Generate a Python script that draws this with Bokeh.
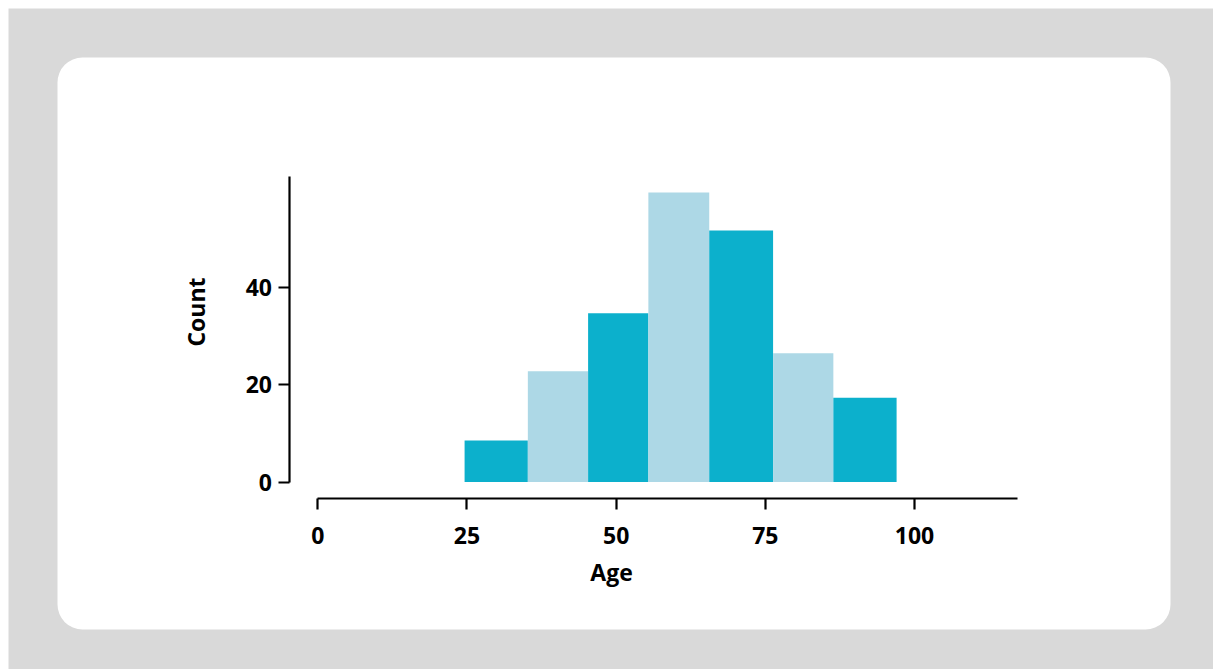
import math
from bokeh.plotting import figure
from bokeh.models import Range1d, FixedTicker, ColumnDataSource
from bokeh.core.properties import value
from bokeh.embed import file_html
from bokeh.resources import INLINE

# ---- data ----
bin_left = [24.6, 35.2, 45.3, 55.4, 65.6, 76.3, 86.4]
bin_right = [35.2, 45.3, 55.4, 65.6, 76.3, 86.4, 97.0]
counts = [8.5, 22.7, 34.6, 59.4, 51.6, 26.4, 17.3]
x_ticks = [0, 25, 50, 75, 100]
y_ticks = [0, 20, 40]
x_title = "Age"
y_title = "Count"

DARK = "#0cb0cc"
LIGHT = "#add8e6"
GRAY = "#d9d9d9"
FONT = "Open Sans"
FSIZE = "23px"

# pixel <-> data mapping (frame covers the full canvas)
W, H = 1213, 669
PX0, SX = 317.3, 5.967      # x pixel of value 0, pixels per unit
PY0, SY = 481.5, 4.875      # y pixel of value 0, pixels per unit


def dx(px):
    return (px - PX0) / SX


def dy(py):
    return (PY0 - py) / SY


p = figure(width=W, height=H, output_backend="svg", toolbar_location=None,
           x_range=Range1d(dx(0), dx(W)), y_range=Range1d(dy(H), dy(0)),
           min_border=0)
p.border_fill_color = "white"
p.background_fill_color = "white"
p.outline_line_color = None
p.xgrid.visible = False
p.ygrid.visible = False

# gray page area and white rounded panel
p.quad(left=[dx(8)], right=[dx(W)], top=[dy(8)], bottom=[dy(H)],
       fill_color=GRAY, line_color=None)
p.quad(left=[dx(57)], right=[dx(1170)], top=[dy(57)], bottom=[dy(629)],
       fill_color="white", line_color=None, border_radius=25)

colors = [DARK if i % 2 == 0 else LIGHT for i in range(len(counts))]
src = ColumnDataSource(dict(left=bin_left, right=bin_right, top=counts,
                            bottom=[0] * len(counts), color=colors))
p.quad(left="left", right="right", top="top", bottom="bottom", source=src,
       fill_color="color", line_color=None)

x_end = dx(1016.7)
y_end = dy(176)
p.xaxis[0].fixed_location = dy(498)
p.yaxis[0].fixed_location = dx(288.5)

for ax, ticks, bounds in ((p.xaxis[0], x_ticks, (0, x_end)), (p.yaxis[0], y_ticks, (0, y_end))):
    ax.ticker = FixedTicker(ticks=ticks)
    ax.bounds = bounds
    ax.axis_line_color = "black"
    ax.axis_line_width = 2.2
    ax.major_tick_line_color = "black"
    ax.major_tick_line_width = 2.2
    ax.major_tick_out = 11
    ax.major_tick_in = 0
    ax.minor_tick_line_color = None
    ax.major_label_text_font = FONT
    ax.major_label_text_font_style = "bold"
    ax.major_label_text_font_size = FSIZE
    ax.major_label_text_color = "black"

p.xaxis[0].major_label_standoff = 17
p.yaxis[0].major_label_standoff = 6

p.text(x=[dx(611)], y=[dy(571)], text=[x_title], text_align="center",
       text_baseline="alphabetic", text_font=value(FONT), text_font_style="bold",
       text_font_size=FSIZE, text_color="black")
p.text(x=[dx(195)], y=[dy(311.5)], text=[y_title], angle=math.pi / 2, text_align="center",
       text_baseline="alphabetic", text_font=value(FONT), text_font_style="bold",
       text_font_size=FSIZE, text_color="black")

open("out.html", "w").write(file_html(p, INLINE))
